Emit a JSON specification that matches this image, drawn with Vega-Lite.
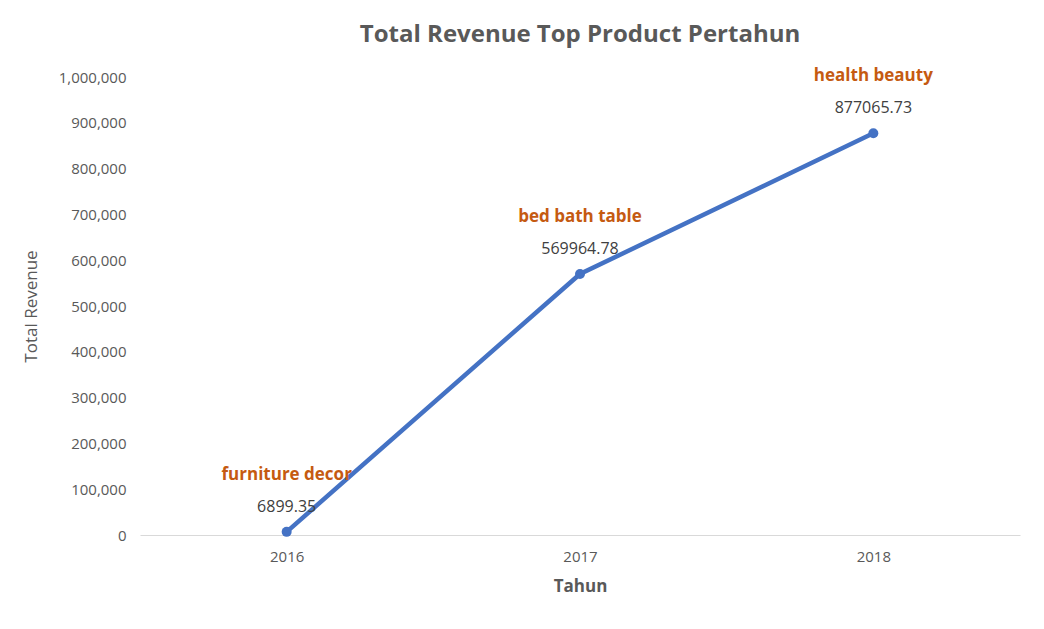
{
  "$schema": "https://vega.github.io/schema/vega-lite/v6.json",
  "width": 880,
  "height": 458,
  "autosize": {"type": "none"},
  "padding": {"left": 140, "top": 77, "right": 24, "bottom": 94},
  "background": "white",
  "title": {
    "text": "Total Revenue Top Product Pertahun",
    "font": "Open Sans", "fontSize": 24, "fontWeight": "bold", "color": "#595959",
    "offset": 20
  },
  "config": {
    "view": {"stroke": null},
    "axis": {"labelFont": "Open Sans", "titleFont": "Open Sans", "labelColor": "#595959", "titleColor": "#595959", "labelFontSize": 15, "titleFontSize": 17, "grid": false, "ticks": false}
  },
  "data": {"values": [
    {"tahun": "2016", "revenue": 6899.35, "product": "furniture decor"},
    {"tahun": "2017", "revenue": 569964.78, "product": "bed bath table"},
    {"tahun": "2018", "revenue": 877065.73, "product": "health beauty"}
  ]},
  "encoding": {
    "x": {"field": "tahun", "type": "ordinal", "title": "Tahun",
      "scale": {"type": "point", "padding": 0.5},
      "axis": {"labelAngle": 0, "domainColor": "#d9d9d9", "labelPadding": 14, "titleFontWeight": "bold", "titlePadding": 14}},
    "y": {"field": "revenue", "type": "quantitative", "title": "Total Revenue",
      "scale": {"domain": [0, 1000000]},
      "axis": {"tickCount": 10, "domain": false, "labelPadding": 14, "titleFontWeight": "normal", "titlePadding": 18}}
  },
  "layer": [
    {"mark": {"type": "line", "color": "#4472C4", "strokeWidth": 4.5}},
    {"mark": {"type": "point", "filled": true, "color": "#4472C4", "size": 100, "opacity": 1}},
    {"mark": {"type": "text", "dy": -25, "font": "Open Sans", "fontSize": 16, "color": "#404040"},
     "encoding": {"text": {"field": "revenue", "type": "quantitative", "format": ".2f"}}},
    {"mark": {"type": "text", "dy": -57, "font": "Open Sans", "fontSize": 17, "fontWeight": "bold", "color": "#C55A11"},
     "encoding": {"text": {"field": "product"}}}
  ]
}
